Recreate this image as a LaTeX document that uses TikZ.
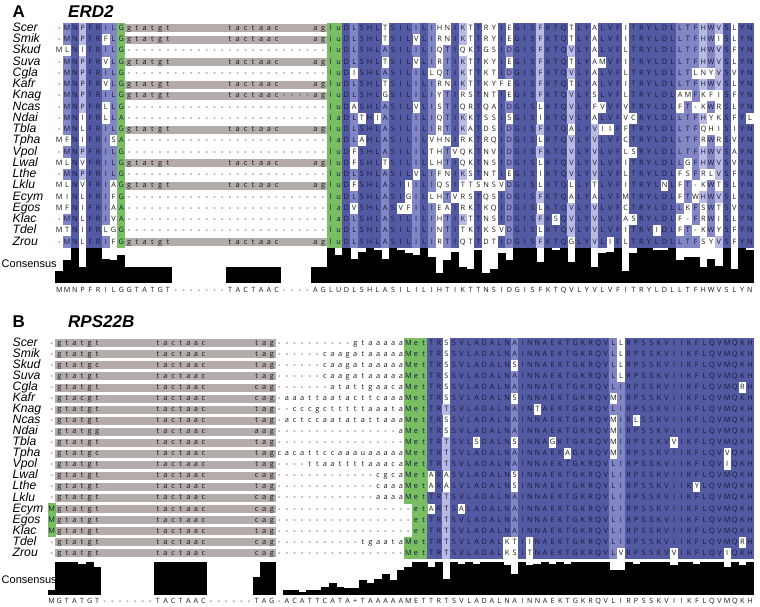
\documentclass[tikz,border=0pt]{standalone}
\usepackage{fontspec}
\setmainfont{Liberation Sans}
\newfontfamily\resfont{Open Sans}
\usetikzlibrary{positioning}

\definecolor{piddark}{RGB}{84,90,162}
\definecolor{pidmid}{RGB}{130,134,196}
\definecolor{pidlight}{RGB}{184,186,226}
\definecolor{startgreen}{RGB}{122,190,100}
\definecolor{introngray}{RGB}{180,172,170}
\definecolor{resdark}{RGB}{22,24,62}
\definecolor{resink}{RGB}{25,25,25}

\tikzset{
  res/.style={inner sep=0pt, minimum width=\cellw, minimum height=\cellh,
              text height=5.4pt, text depth=1.5pt, text=resink,
              font=\resfont\fontsize{7.4}{8}\selectfont},
  bg none/.style={},
  bg piddark/.style={fill=piddark, text=resdark},
  bg pidmid/.style={fill=pidmid, text=resdark},
  bg pidlight/.style={fill=pidlight, text=resdark},
  bg startgreen/.style={fill=startgreen, text=resdark},
  consres/.style={inner sep=0pt, text height=5.4pt, text depth=1.5pt, text=resink,
                  font=\resfont\fontsize{7.2}{8}\selectfont},
  splabel/.style={anchor=west, inner sep=0pt, text height=7.6pt, text depth=1.6pt,
                  font=\itshape\fontsize{12.2}{12}\selectfont},
  conslabel/.style={anchor=west, inner sep=0pt, font=\fontsize{11}{11}\selectfont},
  panel/.style={anchor=west, inner sep=0pt, font=\bfseries\fontsize{17}{17}\selectfont},
  gene/.style={anchor=west, inner sep=0pt, font=\bfseries\itshape\fontsize{17}{17}\selectfont},
}

% one residue, one label, one intron band, one bar, one consensus letter
\newcommand\alncell[4]{\node[res, bg #1] at (#2,#3) {#4};}
\newcommand\alnname[2]{\node[splabel] at (12.5,#1) {#2};}
\newcommand\alngray[3]{\fill[introngray] (#1,#3-4) rectangle (#2,#3+4);}
\newcommand\alnbar[4]{\fill[black] (#1,#3) rectangle (#2,#4);}
\newcommand\alncons[3]{\node[consres] at (#1,#2) {#3};}

\ExplSyntaxOn
\seq_new:N \g_aln_rows_seq
\seq_new:N \g_aln_names_seq
\seq_new:N \g_aln_gray_seq
\str_new:N \l_aln_key_str
\str_new:N \l_aln_type_str
\str_new:N \l_aln_cons_str
\str_new:N \l_aln_ch_str
\str_new:N \l_aln_t_str
\str_new:N \l_aln_k_str
\tl_new:N \l_aln_row_tl
\tl_new:N \l_aln_c_tl
\tl_new:N \l_aln_x_tl
\tl_new:N \l_aln_y_tl
\tl_new:N \l_aln_bg_tl
\int_new:N \l_aln_ncol_int
\int_new:N \l_aln_nrow_int
\int_new:N \l_aln_cnt_int
\int_new:N \l_aln_r_int
\intarray_new:Nn \g_aln_cnt_intarray { 200 }
\cs_set_eq:NN \rep \prg_replicate:nn

\NewDocumentCommand \seqclear { }
  {
    \seq_gclear:N \g_aln_rows_seq
    \seq_gclear:N \g_aln_names_seq
    \seq_gclear:N \g_aln_gray_seq
  }
% name, intron band (1/0), aligned string
\NewDocumentCommand \seqrow { m m m }
  {
    \seq_gput_right:Nn \g_aln_names_seq { #1 }
    \seq_gput_right:Nn \g_aln_gray_seq { #2 }
    \seq_gput_right:Nx \g_aln_rows_seq { #3 }
  }
% key residues, column kinds (b blue, g green, n none), consensus text
\NewDocumentCommand \seqcolumns { m m m }
  {
    \str_set:Nx \l_aln_key_str { #1 }
    \str_set:Nx \l_aln_type_str { #2 }
    \str_set:Nx \l_aln_cons_str { #3 }
    \int_set:Nn \l_aln_ncol_int { \str_count:N \l_aln_key_str }
    \int_set:Nn \l_aln_nrow_int { \seq_count:N \g_aln_rows_seq }
    \int_step_variable:nNn { \l_aln_ncol_int } \l_aln_c_tl
      {
        \int_zero:N \l_aln_cnt_int
        \str_set:Nx \l_aln_k_str { \str_item:Nn \l_aln_key_str { \l_aln_c_tl } }
        \str_if_eq:VnF \l_aln_k_str { - }
          {
            \seq_map_variable:NNn \g_aln_rows_seq \l_aln_row_tl
              {
                \str_if_eq:eeT { \str_item:Nn \l_aln_row_tl { \l_aln_c_tl } } { \l_aln_k_str }
                  { \int_incr:N \l_aln_cnt_int }
              }
          }
        \intarray_gset:Nnn \g_aln_cnt_intarray { \l_aln_c_tl } { \l_aln_cnt_int }
      }
  }
% x0, y0, dx, dy, intron band from, to
\NewDocumentCommand \seqdraw { m m m m m m }
  {
    \int_zero:N \l_aln_r_int
    \seq_map_variable:NNn \g_aln_rows_seq \l_aln_row_tl
      {
        \int_incr:N \l_aln_r_int
        \tl_set:Nx \l_aln_y_tl { \fp_eval:n { #2 + (\int_use:N \l_aln_r_int - 1) * (#4) } }
        \use:x { \exp_not:N \alnname { \l_aln_y_tl } { \seq_item:Nn \g_aln_names_seq { \l_aln_r_int } } }
        \str_if_eq:eeT { \seq_item:Nn \g_aln_gray_seq { \l_aln_r_int } } { 1 }
          {
            \use:x
              {
                \exp_not:N \alngray
                  { \fp_eval:n { #1 + (#5 - 1.5) * (#3) } }
                  { \fp_eval:n { #1 + (#6 - 0.5) * (#3) } }
                  { \l_aln_y_tl }
              }
          }
        \int_step_variable:nNn { \l_aln_ncol_int } \l_aln_c_tl
          {
            \str_set:Nx \l_aln_ch_str { \str_item:Nn \l_aln_row_tl { \l_aln_c_tl } }
            \str_if_eq:VnF \l_aln_ch_str { . }
              {
                \str_set:Nx \l_aln_t_str { \str_item:Nn \l_aln_type_str { \l_aln_c_tl } }
                \tl_set:Nn \l_aln_bg_tl { none }
                \str_if_eq:VnT \l_aln_t_str { g }
                  { \str_if_eq:VnF \l_aln_ch_str { - } { \tl_set:Nn \l_aln_bg_tl { startgreen } } }
                \str_if_eq:VnT \l_aln_t_str { b }
                  {
                    \str_if_eq:eeT { \l_aln_ch_str } { \str_item:Nn \l_aln_key_str { \l_aln_c_tl } }
                      {
                        \int_set:Nn \l_aln_cnt_int { \intarray_item:Nn \g_aln_cnt_intarray { \l_aln_c_tl } }
                        \int_compare:nNnTF { 5 * \l_aln_cnt_int } > { 4 * \l_aln_nrow_int }
                          { \tl_set:Nn \l_aln_bg_tl { piddark } }
                          {
                            \int_compare:nNnTF { 5 * \l_aln_cnt_int } > { 3 * \l_aln_nrow_int }
                              { \tl_set:Nn \l_aln_bg_tl { pidmid } }
                              {
                                \int_compare:nNnT { 5 * \l_aln_cnt_int } > { 2 * \l_aln_nrow_int }
                                  { \tl_set:Nn \l_aln_bg_tl { pidlight } }
                              }
                          }
                      }
                  }
                \tl_set:Nx \l_aln_x_tl { \fp_eval:n { #1 + (\l_aln_c_tl - 1) * (#3) } }
                \use:x { \exp_not:N \alncell { \l_aln_bg_tl } { \l_aln_x_tl } { \l_aln_y_tl } { \l_aln_ch_str } }
              }
          }
      }
  }
% x0, dx, bar base, full bar height, consensus text y
\NewDocumentCommand \seqbars { m m m m m }
  {
    \int_step_variable:nNn { \l_aln_ncol_int } \l_aln_c_tl
      {
        \int_set:Nn \l_aln_cnt_int { \intarray_item:Nn \g_aln_cnt_intarray { \l_aln_c_tl } }
        \tl_set:Nx \l_aln_x_tl { \fp_eval:n { #1 + (\l_aln_c_tl - 1) * (#2) } }
        \int_compare:nNnT \l_aln_cnt_int > 0
          {
            \use:x
              {
                \exp_not:N \alnbar
                  { \fp_eval:n { \l_aln_x_tl - 0.5 * (#2) - 0.2 } }
                  { \fp_eval:n { \l_aln_x_tl + 0.5 * (#2) + 0.2 } }
                  { #3 }
                  { \fp_eval:n { #3 - (#4) * \int_use:N \l_aln_cnt_int / \int_use:N \l_aln_nrow_int } }
              }
          }
        \use:x { \exp_not:N \alncons { \l_aln_x_tl } { #5 } { \str_item:Nn \l_aln_cons_str { \l_aln_c_tl } } }
      }
  }
\ExplSyntaxOff

% intron pieces
\newcommand\iA{gtatgt\rep{7}{.}tactaac\rep{4}{.}ag}
\newcommand\nA{\rep{26}{-}}
\newcommand\mB{\rep{7}{.}tactaac\rep{6}{.}}

\begin{document}
\begin{tikzpicture}[x=1pt, y=-1pt]
\useasboundingbox (0,0) rectangle (760,606);

% panel A: ERD2
\node[panel] (pa) at (12.5,12) {A};
\node[gene] (ga) at (68,12) {ERD2};
\def\cellw{8.1pt}\def\cellh{11.6pt}
\seqclear
\seqrow{Scer}{1}{-MNPFRILG\iA luDLSHLTSILILIHNIKTTRYIEGISFKTQTLYALVFITRYLDLLTFHWVSLYN}
\seqrow{Smik}{1}{-MNPFRFLG\iA luDLSHLTSILVLIRNIKTTRYIEGISFKTQTLYALVFITRYLDLLTFHWISLYN}
\seqrow{Skud}{0}{MLNIFRILG\nA luDLSHLASILILIQTIQKTGSIDGISFKTQVLYALVFLTRYLDLLTFHWVSFYN}
\seqrow{Suva}{1}{-MNPFRVLG\iA luDLSHLTSILVLIRTIKTTKYIEGISFKTQTLYAMVFITRYLDLLTFHWVSLYN}
\seqrow{Cgla}{0}{-MNPFRILG\nA luDISHLASILILLQTIKTTKTIDGISFKTQVLYALVFLTRYLDLLTLNYVSVYN}
\seqrow{Kafr}{1}{-MNPFRVLG\iA luDLSHLTSILILIRNIKTTKYFEGISFKTQTLYALVFITRYLDLLTFHWVSLYN}
\seqrow{Knag}{1}{-MNPFRILGgtatgt\rep{7}{.}tactaac----agluDLSHLGSILILIYTIRSTNTIEGISFKTQVLYSLVFLTRYLDLAMFKFISFYN}
\seqrow{Ncas}{0}{-MNPFRLLG\nA luDASHLASILVLISTIQRTQAIDGISLKTQVLYFVVFVTRYLDLFT-KWRSLYN}
\seqrow{Ndai}{0}{-MNIFRLLA\nA laDLTHIASILILIQTIKKTSSISGISIKTQVLYALVFVCRYLDLLTFHYKSFYL}
\seqrow{Tbla}{1}{-MNLFRILG\iA luDLSHLASILILIRTIKATDSIDGISFKTQALYVIIFFTRYLDLLTFQHISIYN}
\seqrow{Tpha}{0}{MFNIFRISA\nA laDLAHLASILILVHNIRKTRQIDGISLKTQVLYVLVFCTRYLDLLTFRWRSVYN}
\seqrow{Vpol}{0}{-MNPFRILG\nA luDFSHLASILILTHTVQKTNVIDGISFKTQVLYVLVFLSRYLDLLTFHWVSAYN}
\seqrow{Lwal}{1}{MLNVFRILG\iA luDFSHLTSILILLHTIQKTNSIDGISLKTQVLYVLVFITRYLDLLGFHWVSVYN}
\seqrow{Lthe}{0}{-MNPFRILG\nA luDLSHLASILVLIFNIKSTNTIEGISIKTQVLYVLVFLTRYLDLFSFRLVSFYN}
\seqrow{Lklu}{1}{MLNVFRIAG\iA luDFSHLASIIILIQSITTSNSVDGISLKTQLLYTLVFITRYLNLFT-KWTSLYN}
\seqrow{Ecym}{0}{MINLFRIFG\nA luDLSHLASIGILLHTVRSTQSIDGISFKTQALYALVFMTRYLDLFTWHWVSLYN}
\seqrow{Egos}{0}{MFNIFRIAA\nA laDVSHLASVFILIEAIRKTKQIDGISLKTQVLYVLVFCTRYLDLLKFSWTSVYN}
\seqrow{Klac}{0}{-MNLFRIVA\nA laDLSHLASILILIHTIKTTNSIDGISFKSQVLYVLVFASRYLDLF-FRWISLYN}
\seqrow{Tdel}{0}{MTNIFRLGG\nA luDLSHLASILILINTITKTKSVDGISLKTQVLYVLVFITRYIDLFT-KWYSFYN}
\seqrow{Zrou}{1}{-MNLFRIFG\iA luDLSHLASILILIRTIQTTDTIDGISFKTQGLYVLIFLTRYLDLLTFSYVSFYN}
\seqcolumns{MMNPFRILGgtatgt-------tactaac----agluDLSHLASILILIHTIKTTNSIDGISFKTQVLYVLVFITRYLDLLTFHWVSLYN}
           {\rep{8}{b}g\rep{26}{n}gg\rep{53}{b}}
           {MMNPFRILGGTATGT-------TACTAAC----AGLUDLSHLASILILIHTIKTTNSIDGISFKTQVLYVLVFITRYLDLLTFHWVSLYN}
\seqdraw{59.3}{28.3}{7.76}{11.25}{10}{35}
\node[conslabel] (ca) at (1.5,264) {Consensus};
\seqbars{59.3}{7.76}{283}{35}{291}

% panel B: RPS22B
\node[panel] (pb) at (12.5,321.5) {B};
\node[gene] (gb) at (68,321.5) {RPS22B};
\def\cellw{7.95pt}\def\cellh{11.4pt}
\seqclear
\seqrow{Scer}{1}{-gtatgt\mB tag\rep{10}{-}gtaaaaaMetTRSSVLADALNAINNAEKTGKRQVLLRPSSKVIIKFLQVMQKH}
\seqrow{Smik}{1}{-gtatgt\mB tag\rep{6}{-}caagataaaaaMetTRSSVLADALNAINNAEKTGKRQVLLRPSSKVIIKFLQVMQKH}
\seqrow{Skud}{1}{-gtatgc\mB tag\rep{6}{-}caagataaaaaMetTRSSVLADALNSINNAEKTGKRQVLLRPSSKVIIKFLQVMQKH}
\seqrow{Suva}{1}{-gtatgt\mB tag\rep{6}{-}caagataaaaaMetTRSSVLADALNAINNAEKTGKRQVLLRPSSKVIIKFLQVMQKH}
\seqrow{Cgla}{1}{-gtatgt\mB cag\rep{7}{-}atattgaacaMetTRSSVLADALNAINNAEKTGKRQVLIRPSSKVIIKFLQVMQRH}
\seqrow{Kafr}{1}{-gtacgt\mB cag-aaattaatacttcaaaMetTRSSVLADALNSINNAEKTGKRQVMIRPSSKVIIKFLQVMQKH}
\seqrow{Knag}{1}{-gtatgt\mB tag--cccgctttttaaataMetTRTSVLADALNAINTAEKTGKRQVLIRPSSKVIIKFLQVMQKH}
\seqrow{Ncas}{1}{-gtatgt\mB tag-actccaatatattaaaMetTRSSVLADALNAINNAEKTGKRQVMIRLSSKVIIKFLQVMQKH}
\seqrow{Ndai}{1}{-gtatgg\mB aag\rep{16}{-}aMetTRSSVLADALNAINNAEKTGKRQVMIRPSSKVIIKFLQVMQKH}
\seqrow{Tbla}{1}{-gtatgt\mB tag\rep{17}{-}MetTRTSVLSDALNSINNAGKTGKRQVMIRPSSKVVIKFLQVMQKH}
\seqrow{Tpha}{1}{-gtatgc\mB tagcacattccaaauaaaaaMetTRTSVLADALNAINNAEKAGKRQVMIRPSSKVIIKFLQVVQKH}
\seqrow{Vpol}{1}{-gtatgt\mB tag----ttaattttaaacaMetTRTSVLADALNAINNAEKTGKRQVLIRPSSKVIIKFLQVIQKH}
\seqrow{Lwal}{1}{-gtatgt\mB cag\rep{13}{-}cgcaMetARASVLADALNSINNAEKTGKRQVLIRPSSKVIIKFLQVMQKH}
\seqrow{Lthe}{1}{-gtatgt\mB tag\rep{13}{-}caaaMetARASVLADALNSINNAEKTGKRQVLIRPSSKVIIKYLQVMQKH}
\seqrow{Lklu}{1}{-gtatgt\mB cag\rep{13}{-}aaaaMetTRTSVLADALNAINNAEKTGKRQVLIRPSSKVIIKFLQVMQKH}
\seqrow{Ecym}{1}{Mgtatgt\mB cag\rep{17}{-}-etARTSALADALNAINNAEKTGKRQVLIRPSSKVIIKFLQVMQKH}
\seqrow{Egos}{1}{Mgtatgt\mB cag\rep{17}{-}-etTRTSVLADALNAINNAEKTGKRQVLIRPSSKVIIKFLQVMQKH}
\seqrow{Klac}{1}{Mgtatgt\mB tag\rep{17}{-}-etTRTSVLADALNAINNAEKTGKRQVLIRPSSKVIIKFLQVMQKH}
\seqrow{Tdel}{1}{-gtatgt\mB cag\rep{11}{-}tgaataMetTRTSVLADALKTIINAEKTGKRQVLIRPSSKVIIKFLQVMQRH}
\seqrow{Zrou}{1}{-gtatgt\mB cag\rep{17}{-}MetTRTSVLADALKSITNAEKTGKRQVLVRPSSKVVIKFLQVIQKH}
\seqcolumns{Mgtatgt-------tactaac------tag-acattcataataaaaaMetTRTSVLADALNAINNAEKTGKRQVLIRPSSKVIIKFLQVMQKH}
           {g\rep{46}{n}ggg\rep{43}{b}}
           {MGTATGT-------TACTAAC------TAG-ACATTCATA+TAAAAAMETTRTSVLADALNAINNAEKTGKRQVLIRPSSKVIIKFLQVMQKH}
\seqdraw{51.7}{343.3}{7.59}{11.05}{2}{30}
\node[conslabel] (cb) at (1.5,580) {Consensus};
\seqbars{51.7}{7.59}{595}{33}{602}
\end{tikzpicture}
\end{document}
